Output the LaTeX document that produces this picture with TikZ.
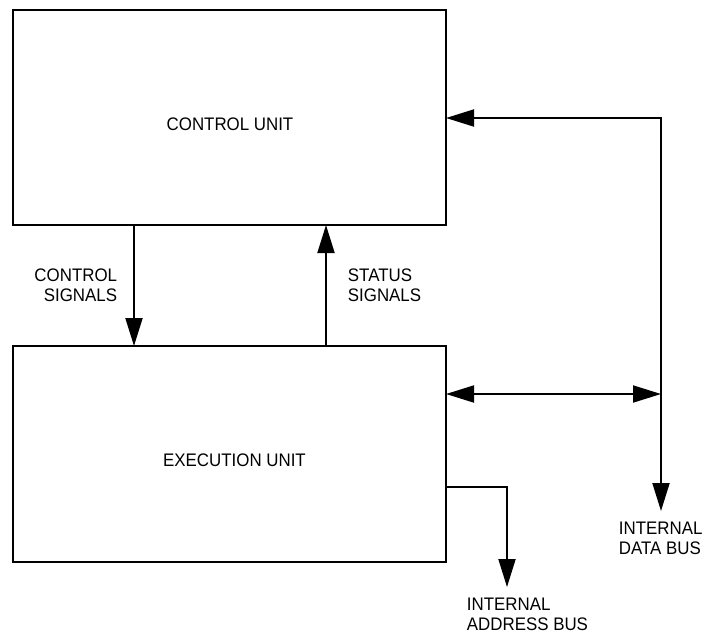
\documentclass[tikz,border=0pt]{standalone}
\usepackage{fontspec}
\setmainfont{Liberation Sans}[FakeStretch=0.93]
\usetikzlibrary{arrows.meta}

\begin{document}
\begin{tikzpicture}[x=0.03cm, y=-0.03cm, line width=1.6pt,
		unit/.style = {draw, rectangle, inner sep=0pt, outer sep=0pt, minimum width=12.99cm},
		letter/.style={inner sep=0pt, font=\fontsize{15.5}{17}\selectfont},
		tip/.style={-{Triangle[length=0.84cm, width=0.51cm]}},
		tips/.style={{Triangle[length=0.84cm, width=0.51cm]}-{Triangle[length=0.84cm, width=0.51cm]}}]
		
		\useasboundingbox (0,0) rectangle (704,635);
		
		\node[unit, minimum height=6.45cm] (ctrl) at (229.5,117.5) {};
		\node[unit, minimum height=6.48cm] (exec) at (229.5,454) {};
		
		\coordinate (cs) at (134,0);
		\coordinate (ss) at (326,0);
		\coordinate (dbtop) at (661,118);
		\coordinate (dbmid) at (661,394);
		\coordinate (dbend) at (661,511);
		\coordinate (abk) at (507,487);
		\coordinate (abend) at (507,587);
		
		\draw[tip] (ctrl.south -| cs) to (exec.north -| cs);
		\draw[tip] (exec.north -| ss) to (ctrl.south -| ss);
		\draw[tips] (ctrl.east |- dbtop) -- (dbtop) -- (dbend);
		\draw[tips] (exec.east |- dbmid) to (dbmid);
		\draw[tip] (exec.east |- abk) -- (abk) -- (abend);
		
		\node[letter] (cu) at (230,124.5) {CONTROL UNIT};
		\node[letter] (eu) at (234.5,460.5) {EXECUTION UNIT};
		
		\node[letter, align=right, anchor=east] (csl) at (118,285.5) {CONTROL\\SIGNALS};
		\node[letter, align=left, anchor=west] (ssl) at (347,285.5) {STATUS\\SIGNALS};
		\node[letter, align=left, anchor=north west] (dbl) at (618,521) {INTERNAL\\DATA BUS};
		\node[letter, align=left, anchor=north west] (abl) at (466,597) {INTERNAL\\ADDRESS BUS};
		
	\end{tikzpicture}
\end{document}
